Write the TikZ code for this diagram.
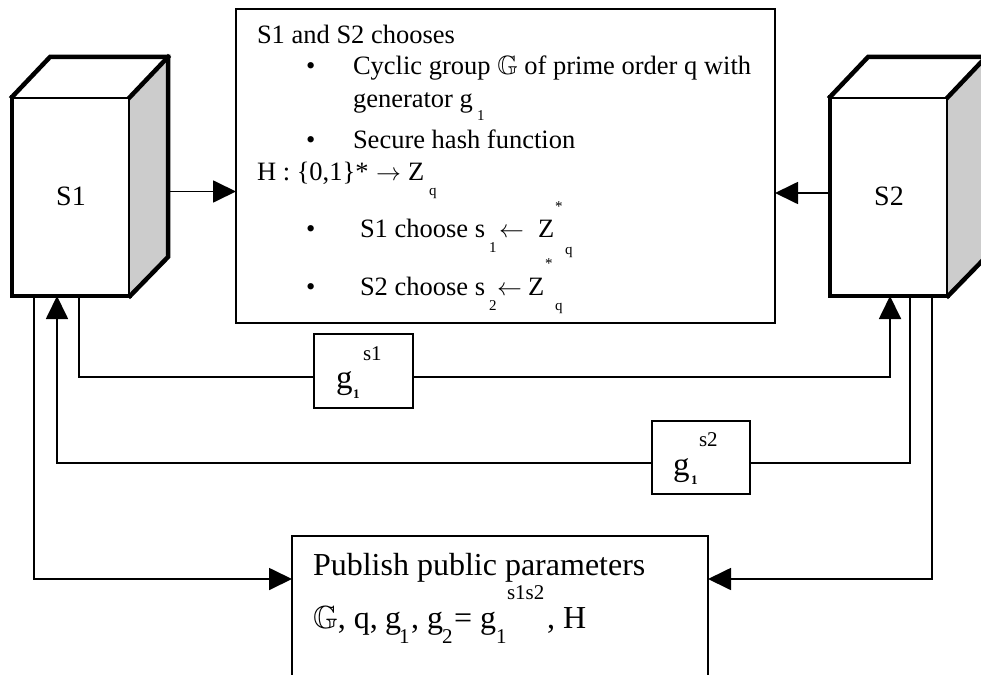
\documentclass[tikz,border=0pt]{standalone}
\usepackage{fontspec}
\usepackage{amssymb}
\setmainfont{Liberation Serif}
\usetikzlibrary{arrows.meta,calc}
\definecolor{sidegray}{HTML}{CCCCCC}

\tikzset{
  front/.style={draw, line width=4.5pt, fill=white, minimum width=118pt,
    minimum height=199pt, inner sep=0pt, outer sep=0pt,
    font=\fontsize{28}{32}\selectfont},
  cubeedge/.style={line width=4.5pt, line join=miter, line cap=rect},
  plainbox/.style={draw, line width=1.5pt, fill=white, inner sep=0pt, outer sep=0pt},
  txt/.style={anchor=base west, inner sep=0pt, outer sep=0pt},
  fa/.style={font=\fontsize{26.5}{30}\selectfont},
  fb/.style={font=\fontsize{32}{36}\selectfont},
  fg/.style={font=\fontsize{33}{36}\selectfont},
  fs/.style={font=\fontsize{15}{17}\selectfont},
  fm/.style={font=\fontsize{21}{24}\selectfont},
  fsub/.style={font=\fontsize{13}{15}\selectfont\bfseries},
  fsubb/.style={font=\fontsize{21}{24}\selectfont},
  conn/.style={line width=1.8pt},
  arr/.style={conn, -{Triangle[length=23pt,width=22pt]}}
}

% cube drawn around a front-face node: top and right side in perspective
\newcommand{\cubeshell}[1]{%
  \fill[white] (#1.north west) -- ++(38,-40) -- ++(118,0) -- (#1.north east) -- cycle;
  \fill[sidegray] (#1.north east) -- ++(38,-40) -- ++(0,200) -- (#1.south east) -- cycle;
  \draw[cubeedge] (#1.north west) -- ++(38,-40) -- ++(118,0) -- ++(0,200) -- (#1.south east);
  \draw[cubeedge] (#1.north east) -- ++(38,-40);
}

\begin{document}
\begin{tikzpicture}[x=1pt,y=-1pt]
\useasboundingbox (0,0) rectangle (981,674);
\clip (0,0) rectangle (981,674);

% ---- servers ----
\node[front] (s1) at (71,196.5) {S1};
\cubeshell{s1}
\node[front] (s2) at (889,196.5) {S2};
\cubeshell{s2}

% ---- setup box ----
\node[plainbox, minimum width=539pt, minimum height=314pt] (mb) at (505.5,166) {};
\node[txt,fa] (l1) at (257,44) {S1 and S2 chooses};
\node[txt,fa] (b1) at (306,75) {•};
\node[txt,fa] (l2) at (353,75) {Cyclic group $\mathbb{G}$ of prime order q with};
\node[txt,fa] (l3) at (353,107) {generator g};
\node[txt,fs] (l3s) at (477,121) {1};
\node[txt,fa] (b2) at (306,148) {•};
\node[txt,fa] (l4) at (353,148) {Secure hash function};
\node[txt,fa] (l5) at (257,180) {H : \{0,1\}*};
\node[txt,fa] (l5a) at (376,180) {$\rightarrow$};
\node[txt,fa] (l5z) at (408,180) {Z};
\node[txt,fs] (l5s) at (429,195) {q};
\node[txt,fa] (b3) at (306,237) {•};
\node[txt,fa] (l6) at (360,237) {S1 choose s};
\node[txt,fs] (l6s) at (489,252) {1};
\node[txt,fa] (l6a) at (499,237) {$\leftarrow$};
\node[txt,fa] (l6z) at (538,237) {Z};
\node[txt,fs] (l6t) at (555,211) {*};
\node[txt,fs] (l6q) at (565,254) {q};
\node[txt,fa] (b4) at (306,295) {•};
\node[txt,fa] (l7) at (360,295) {S2 choose s};
\node[txt,fs] (l7s) at (489,310) {2};
\node[txt,fa] (l7a) at (497,295) {$\leftarrow$};
\node[txt,fa] (l7z) at (528,295) {Z};
\node[txt,fs] (l7t) at (545,268) {*};
\node[txt,fs] (l7q) at (555,310) {q};

% ---- exchanged values ----
\node[plainbox, minimum width=99pt, minimum height=74pt] (gs1) at (363.5,371) {};
\node[txt,fg] (gs1g) at (336,388) {g};
\node[txt,fsub] (gs1s) at (353,398) {1};
\node[txt,fm] (gs1e) at (363,360) {s1};

\node[plainbox, minimum width=98pt, minimum height=73pt] (gs2) at (701,457.5) {};
\node[txt,fg] (gs2g) at (673,475) {g};
\node[txt,fsub] (gs2s) at (691,484) {1};
\node[txt,fm] (gs2e) at (699,446) {s2};

% ---- published parameters ----
\node[plainbox, minimum width=416pt, minimum height=164pt] (pub) at (500,618) {};
\node[txt,fb] (p1) at (313,575) {Publish public parameters};
\node[txt,fb] (p2a) at (313,628) {$\mathbb{G}$, q,};
\node[txt,fb] (p2g1) at (385,628) {g};
\node[txt,fsubb] (p2b) at (399,643) {1};
\node[txt,fb] (p2c) at (411,628) {,};
\node[txt,fb] (p2g2) at (427,628) {g};
\node[txt,fsubb] (p2d) at (442,643) {2};
\node[txt,fb] (p2e) at (454,628) {=};
\node[txt,fb] (p2g3) at (480,628) {g};
\node[txt,fsubb] (p2f) at (496,643) {1};
\node[txt,fm] (p2g) at (507,599) {s1s2};
\node[txt,fb] (p2h) at (547,628) {, H};

% ---- connection points ----
\coordinate (s1side) at ($(s1.east)+(38,-5)$);
\coordinate (s2in) at ($(s2.west)+(0,-3.5)$);
\coordinate (s1b1) at ($(s1.south west)+(22,0)$);
\coordinate (s1b2) at ($(s1.south west)+(45,0)$);
\coordinate (s1b3) at ($(s1.south west)+(67,0)$);
\coordinate (s2b1) at ($(s2.south west)+(60,0)$);
\coordinate (s2b2) at ($(s2.south west)+(80,0)$);
\coordinate (s2b3) at ($(s2.south west)+(102,0)$);
\coordinate (r1) at ($(gs1.west)+(0,6)$);
\coordinate (r2) at ($(gs2.west)+(0,5.5)$);
\coordinate (r3) at ($(pub.north west)+(0,43)$);

% ---- connectors ----
\draw[arr] (s1side) -- (s1side -| mb.west);
\draw[arr] (s2in) -- (s2in -| mb.east);

\draw[conn] (s1b3) |- (r1);
\draw[arr] (r1 -| gs1.east) -| (s2b1);

\draw[conn] (s2b2) |- (r2 -| gs2.east);
\draw[arr] (r2) -| (s1b2);

\draw[arr] (s1b1) |- (r3);
\draw[arr] (s2b3) |- (r3 -| pub.east);
\end{tikzpicture}
\end{document}
